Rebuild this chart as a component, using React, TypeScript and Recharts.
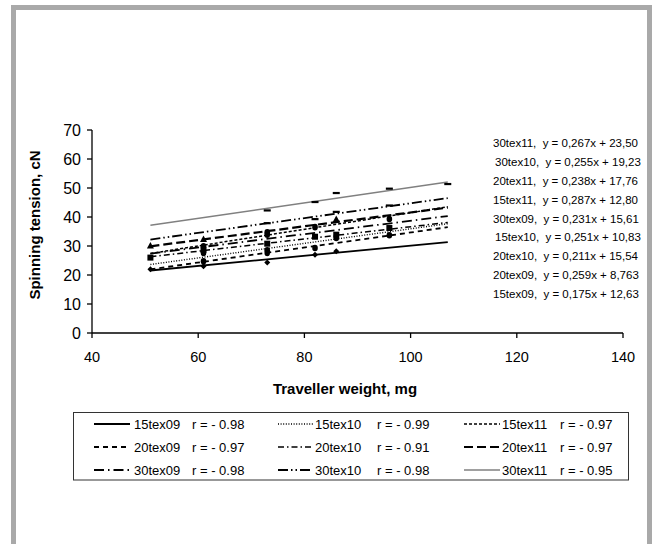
import { ComposedChart, Line, Scatter, XAxis, YAxis } from 'recharts';

// series as they appear in the legend (row by row)
const seriesNames = ['15tex09', '15tex10', '15tex11', '20tex09', '20tex10', '20tex11', '30tex09', '30tex10', '30tex11'];
const slopes = [0.175, 0.251, 0.287, 0.259, 0.211, 0.238, 0.231, 0.255, 0.267];
const intercepts = [12.63, 10.83, 12.8, 8.763, 15.54, 17.76, 15.61, 19.23, 23.5];
const slopeLabels = ['0,175', '0,251', '0,287', '0,259', '0,211', '0,238', '0,231', '0,255', '0,267'];
const interceptLabels = ['12,63', '10,83', '12,80', '8,763', '15,54', '17,76', '15,61', '19,23', '23,50'];
const rLabels = ['- 0.98', '- 0.99', '- 0.97', '- 0.97', '- 0.91', '- 0.97', '- 0.98', '- 0.98', '- 0.95'];
const trendFrom = 51;
const trendTo = 107;

// equation block order, top to bottom
const equationOrder = [8, 7, 5, 2, 6, 1, 4, 3, 0];

const xTicks = [40, 60, 80, 100, 120, 140];
const yTicks = [0, 10, 20, 30, 40, 50, 60, 70];

// measured points (traveller weight, tension)
const pts15tex09 = [[51, 22], [61, 23], [73, 24.3], [82, 27], [86, 28.2]];
const pts15tex10 = [[61, 27.6], [73, 28.5], [86, 32.8]];
const pts15tex11 = [[73, 34.7], [82, 36.5], [96, 39.3]];
const pts20tex09 = [[61, 24.7], [73, 27.6], [82, 29.3], [96, 33.7]];
const pts20tex10 = [[51, 26], [61, 28.7], [73, 30.8], [82, 33.2], [86, 33.9], [96, 36.2]];
const pts20tex11 = [[51, 30], [61, 32.2], [86, 39.1]];
const pts30tex09 = [[61, 29.9], [73, 33.9]];
const pts30tex10 = [[73, 37.9], [82, 39.3], [86, 41.8], [96, 44]];
const pts30tex11 = [[73, 42.3], [82, 45.2], [86, 48.3], [96, 49.8], [107, 51.4]];
const allPoints = [pts15tex09, pts15tex10, pts15tex11, pts20tex09, pts20tex10, pts20tex11, pts30tex09, pts30tex10, pts30tex11];

const styles = [
  { stroke: '#000', width: 1.8, dash: undefined, marker: 'diamond' },
  { stroke: '#000', width: 1.4, dash: '1 1.6', marker: 'circle' },
  { stroke: '#000', width: 1.5, dash: '3 2', marker: 'circle' },
  { stroke: '#000', width: 1.8, dash: '5 4', marker: 'circle' },
  { stroke: '#000', width: 1.5, dash: '6 3 1.5 3', marker: 'square' },
  { stroke: '#000', width: 2.2, dash: '9 4', marker: 'triangle' },
  { stroke: '#000', width: 1.8, dash: '10 4 1.5 4', marker: 'circle' },
  { stroke: '#000', width: 1.8, dash: '10 3 1.5 3 1.5 3', marker: 'dash' },
  { stroke: '#808080', width: 1.5, dash: undefined, marker: 'dash' },
];

const FONT = 'Arial, "Liberation Sans", sans-serif';

const makeMarker = (kind: string) => (props: any) => {
  const { cx, cy } = props;
  if (cx == null || cy == null) return <g />;
  if (kind === 'diamond') return <path d={`M${cx},${cy - 3}L${cx + 3},${cy}L${cx},${cy + 3}L${cx - 3},${cy}Z`} fill="#000" />;
  if (kind === 'square') return <rect x={cx - 3} y={cy - 3} width={6} height={6} fill="#000" />;
  if (kind === 'triangle') return <path d={`M${cx},${cy - 4}L${cx + 3.5},${cy + 2.5}L${cx - 3.5},${cy + 2.5}Z`} fill="#000" />;
  if (kind === 'dash') return <rect x={cx - 3.5} y={cy - 1} width={7} height={2.2} fill="#000" />;
  return <ellipse cx={cx} cy={cy} rx={2.8} ry={3.3} fill="#000" />;
};

const legendCols = [
  { lineX1: 94, lineX2: 130, nameX: 134, rX: 192 },
  { lineX1: 278, lineX2: 313, nameX: 315, rX: 377 },
  { lineX1: 464, lineX2: 500, nameX: 502, rX: 560 },
];
const legendRows = [424, 447, 470];

const App = () => {
  const trends = seriesNames.map((_, i) => [
    { x: trendFrom, y: slopes[i] * trendFrom + intercepts[i] },
    { x: trendTo, y: slopes[i] * trendTo + intercepts[i] },
  ]);

  return (
    <div style={{ position: 'absolute', left: 0, top: 0, width: 654, height: 544, overflow: 'hidden', background: '#fff', fontFamily: FONT }}>
      <div style={{ position: 'absolute', left: 11, top: 5, width: 631, height: 560, border: '5.5px solid #a9a9a9', borderBottom: 'none' }} />
      <div style={{ position: 'absolute', left: 0, top: 0 }}>
        <ComposedChart width={654} height={544} margin={{ top: 130, right: 31, left: 42, bottom: 181 }}>
          <XAxis
            type="number"
            dataKey="x"
            domain={[40, 140]}
            ticks={xTicks}
            tickSize={5}
            tickMargin={14}
            axisLine={{ stroke: '#000', strokeWidth: 1.3 }}
            tickLine={{ stroke: '#000', strokeWidth: 1.3 }}
            tick={{ fill: '#000', fontSize: 14.5, fontFamily: FONT }}
            height={30}
            allowDecimals={false}
          />
          <YAxis
            type="number"
            dataKey="y"
            domain={[0, 70]}
            ticks={yTicks}
            tickSize={5}
            tickMargin={6}
            axisLine={{ stroke: '#000', strokeWidth: 1.3 }}
            tickLine={{ stroke: '#000', strokeWidth: 1.3 }}
            tick={{ fill: '#000', fontSize: 16, fontFamily: FONT }}
            width={50}
          />
          {trends.map((d, i) => (
            <Line
              key={`t${i}`}
              data={d}
              dataKey="y"
              type="linear"
              stroke={styles[i].stroke}
              strokeWidth={styles[i].width}
              strokeDasharray={styles[i].dash}
              dot={false}
              activeDot={false}
              isAnimationActive={false}
            />
          ))}
          {allPoints.map((p, i) => (
            <Scatter
              key={`s${i}`}
              data={p.map(([x, y]) => ({ x, y }))}
              dataKey="y"
              shape={makeMarker(styles[i].marker)}
              isAnimationActive={false}
            />
          ))}
        </ComposedChart>
      </div>
      <svg width={654} height={544} style={{ position: 'absolute', left: 0, top: 0 }} fontFamily={FONT}>
        <text transform="translate(40,225) rotate(-90)" textAnchor="middle" fontWeight="bold" fontSize={15}>
          Spinning tension, cN
        </text>
        <text x={345} y={394} textAnchor="middle" fontWeight="bold" fontSize={15}>
          Traveller weight, mg
        </text>
        {equationOrder.map((s, k) => (
          <text key={s} x={s === 7 || s === 1 ? 495 : 493} y={143.3 + k * 18.8 + 4} fontSize={11.5} style={{ whiteSpace: 'pre' }}>
            {`${seriesNames[s]},  y = ${slopeLabels[s]}x + ${interceptLabels[s]}`}
          </text>
        ))}
        <rect x={73.5} y={412.5} width={555} height={67.5} fill="#fff" stroke="#333" />
        {seriesNames.map((name, i) => {
          const col = legendCols[i % 3];
          const y = legendRows[Math.floor(i / 3)];
          return (
            <g key={name}>
              <line x1={col.lineX1} x2={col.lineX2} y1={y} y2={y} stroke={styles[i].stroke} strokeWidth={styles[i].width} strokeDasharray={styles[i].dash} />
              <text x={col.nameX} y={y + 4.5} fontSize={13}>{name}</text>
              <text x={col.rX} y={y + 4.5} fontSize={13}>{`r = ${rLabels[i]}`}</text>
            </g>
          );
        })}
      </svg>
    </div>
  );
};

export default App;
